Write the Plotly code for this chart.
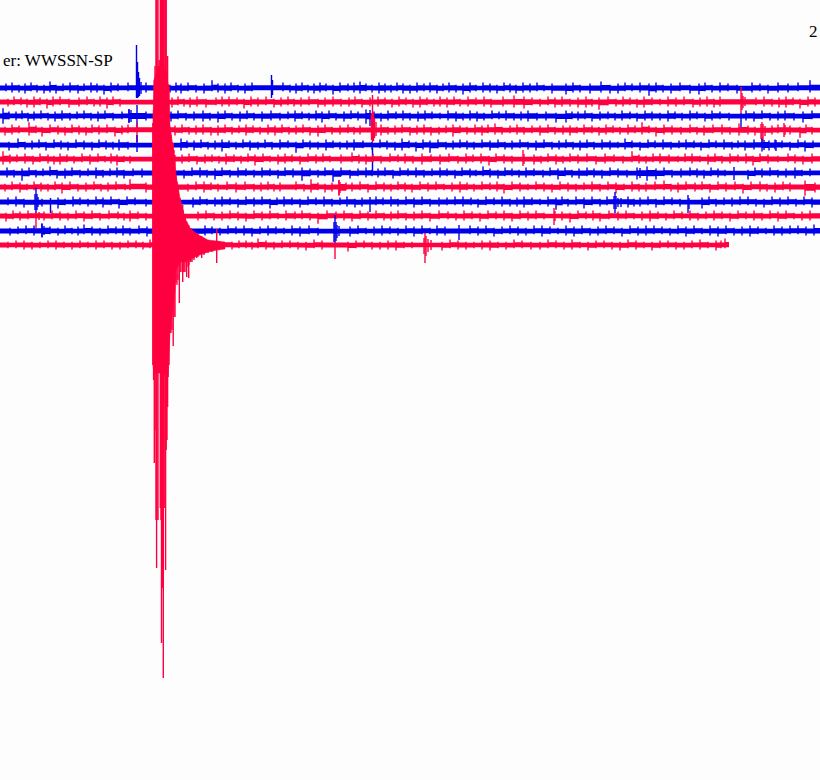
import plotly.graph_objects as go

# Helicorder rows: baseline level, end of record and colour index
ROW_LEVELS = [88, 102, 116, 130, 145, 159, 173, 187, 202, 216, 231, 245]
ROW_ENDS = [820, 820, 820, 820, 820, 820, 820, 820, 820, 820, 820, 729]
BLUE = "#0000e8"
RED = "#ff0040"

# Noise ticks read from each row: (time, swing above, swing below)
NOISE_0 = [(6,4,3),(12,5,4),(19,3,4),(25,4,5),(31,5,3),(37,3,4),(44,3,5),(50,6,4),(56,3,5),(63,4,3),(70,5,4),(78,3,5),(84,4,3),(91,5,4),(97,4,4),(104,3,6),(111,5,4),(118,4,3),(128,5,3),(146,5,4),(170,3,4),(176,5,4),(181,4,5),(188,5,3),(196,3,4),(204,4,5),(212,7,3),(218,4,4),(225,4,5),(231,5,3),(238,3,4),(245,4,5),(252,5,3),(283,5,3),(290,3,4),(296,4,5),(302,5,3),(308,3,4),(314,4,5),(320,5,4),(326,4,3),(333,3,6),(340,5,4),(348,4,3),(354,5,4),(360,6,5),(366,4,3),(372,3,4),(379,5,5),(385,4,4),(391,3,4),(397,5,3),(403,4,5),(410,3,5),(417,5,4),(424,4,3),(430,5,4),(437,3,5),(443,4,3),(449,5,4),(456,3,4),(463,4,6),(470,5,4),(476,3,3),(483,5,4),(490,4,4),(497,3,5),(504,5,3),(510,4,4),(516,3,5),(523,5,4),(530,4,4),(537,5,3),(544,3,3),(552,4,5),(566,4,6),(573,5,4),(580,3,4),(590,4,5),(601,6,4),(610,3,5),(618,4,5),(625,5,3),(632,4,3),(640,5,4),(649,4,7),(656,5,4),(663,3,4),(671,4,5),(680,5,3),(690,3,5),(699,4,6),(705,5,3),(712,3,4),(720,5,4),(728,4,3),(737,3,5),(752,5,4),(760,4,3),(768,3,5),(778,5,4),(788,4,4),(798,5,3),(810,7,4)]
NOISE_1 = [(8,3,4),(14,5,3),(21,4,3),(27,3,5),(34,5,5),(40,4,3),(47,3,6),(53,5,4),(60,5,3),(69,3,5),(79,4,4),(87,5,3),(94,3,4),(100,5,4),(107,4,6),(113,5,3),(120,3,4),(172,4,5),(178,5,3),(184,3,4),(190,4,5),(197,5,4),(206,3,5),(216,4,3),(222,5,4),(229,5,4),(237,4,3),(244,3,6),(251,5,4),(258,4,4),(266,5,3),(274,3,5),(281,4,4),(288,5,3),(294,3,4),(301,4,4),(309,5,3),(318,3,5),(325,4,4),(333,5,4),(341,3,4),(349,4,4),(355,5,3),(362,3,5),(370,4,4),(378,5,4),(385,4,3),(392,3,5),(399,5,4),(406,4,3),(413,3,5),(420,5,5),(427,4,3),(434,3,4),(440,5,4),(447,4,5),(454,5,3),(460,3,4),(468,5,4),(476,4,3),(484,5,4),(491,3,5),(503,5,4),(514,6,5),(524,5,6),(532,4,3),(540,3,4),(548,5,3),(555,4,5),(562,5,4),(570,3,4),(578,4,5),(586,5,5),(592,3,4),(599,4,7),(608,5,3),(616,3,4),(623,5,4),(630,4,3),(637,3,5),(644,5,5),(652,4,3),(660,3,3),(668,5,4),(676,4,4),(684,5,3),(693,3,5),(700,4,4),(707,5,4),(714,3,5),(720,5,4),(756,4,3),(764,5,4),(772,3,4),(779,4,5),(786,5,5),(793,4,3),(800,3,6),(808,5,4),(815,4,4)]
NOISE_2 = [(3,7,7),(9,4,3),(16,4,4),(22,5,3),(28,3,5),(34,4,4),(41,5,3),(48,3,4),(55,4,5),(62,5,4),(70,3,4),(77,4,3),(84,5,3),(91,3,4),(98,4,5),(105,5,3),(113,3,4),(122,4,3),(129,6,6),(146,4,4),(171,4,5),(178,5,3),(186,3,4),(194,4,4),(203,5,5),(210,3,4),(218,4,6),(225,5,3),(232,3,4),(240,4,5),(247,5,3),(254,3,4),(262,4,5),(271,5,4),(280,3,4),(288,4,3),(295,5,5),(302,4,3),(309,3,4),(316,5,4),(322,4,6),(329,5,3),(336,3,4),(344,4,5),(351,5,3),(358,4,4),(366,6,7),(374,4,4),(381,3,5),(388,5,4),(396,4,3),(403,5,4),(410,3,4),(418,4,5),(425,5,4),(432,4,3),(440,3,3),(448,5,4),(456,4,5),(463,3,4),(470,5,4),(477,4,5),(484,3,4),(492,5,3),(499,4,3),(506,5,4),(514,3,4),(521,4,4),(528,5,5),(537,3,4),(546,4,4),(556,3,6),(566,5,6),(572,4,3),(578,4,4),(585,5,3),(592,3,5),(600,4,4),(608,4,3),(615,3,4),(622,5,4),(630,4,3),(637,3,5),(645,5,4),(652,4,4),(660,3,4),(668,5,5),(675,4,3),(682,3,4),(690,5,4),(697,4,3),(705,3,5),(712,5,4),(720,4,3),(729,3,4),(746,5,4),(754,4,5),(762,5,3),(770,3,4),(778,4,4),(785,5,4),(794,3,4),(803,4,6),(812,5,3)]
NOISE_3 = [(5,3,5),(12,5,4),(19,4,3),(29,7,5),(36,4,3),(42,3,6),(50,5,3),(58,4,4),(65,3,5),(72,5,3),(79,4,4),(86,3,5),(92,5,3),(99,4,4),(107,5,3),(115,3,6),(122,4,4),(128,5,3),(175,4,5),(182,5,3),(189,3,4),(196,4,4),(203,5,4),(211,3,5),(218,4,5),(225,5,3),(232,3,4),(239,4,3),(246,5,5),(253,4,3),(260,3,4),(268,5,4),(275,4,5),(282,5,3),(289,3,4),(296,4,4),(303,5,3),(310,3,5),(318,4,6),(325,5,3),(332,3,4),(340,4,4),(348,5,3),(354,3,4),(360,4,4),(381,5,5),(388,3,4),(395,4,4),(402,5,3),(410,3,5),(417,4,4),(424,5,4),(431,3,5),(439,3,4),(446,4,3),(453,5,6),(460,4,3),(467,3,4),(475,5,4),(482,4,5),(488,5,3),(495,6,4),(502,3,4),(510,4,3),(517,5,4),(524,3,4),(532,4,3),(540,4,5),(548,5,3),(555,3,4),(563,4,4),(570,4,5),(577,3,3),(584,5,4),(592,4,3),(599,3,5),(606,5,4),(613,4,3),(620,3,4),(628,5,4),(635,4,3),(642,7,4),(649,4,3),(656,3,6),(664,5,4),(672,4,4),(681,3,4),(690,5,3),(697,3,4),(704,4,5),(713,5,3),(722,5,4),(730,3,4),(739,6,5),(748,4,4),(755,3,5),(772,4,4),(778,5,3),(790,4,4),(800,3,7),(806,5,3),(812,3,4)]
NOISE_4 = [(9,3,5),(18,6,3),(25,3,4),(32,4,4),(39,5,3),(46,3,5),(54,5,3),(61,4,4),(68,3,5),(76,5,3),(84,4,4),(92,3,5),(99,5,3),(106,4,4),(113,3,4),(119,5,5),(128,3,4),(181,6,5),(187,4,3),(194,4,5),(201,5,3),(208,3,4),(215,4,4),(222,5,6),(229,4,3),(236,3,4),(243,5,3),(250,4,5),(258,3,4),(265,5,3),(272,3,4),(280,5,4),(288,4,3),(296,3,7),(303,5,3),(310,4,4),(318,3,4),(326,5,5),(333,4,3),(340,3,4),(347,4,4),(354,5,5),(363,4,3),(372,3,4),(380,5,3),(387,4,4),(395,3,5),(402,6,5),(409,4,3),(416,3,6),(423,5,4),(430,4,7),(438,5,3),(446,3,4),(453,4,4),(460,5,3),(467,4,4),(474,3,4),(482,5,3),(490,4,5),(498,5,3),(505,3,4),(512,4,4),(520,5,3),(528,3,4),(536,4,5),(544,5,3),(552,3,4),(559,4,4),(566,5,3),(573,3,4),(580,4,5),(587,5,3),(594,3,4),(602,5,4),(610,4,4),(618,3,3),(625,6,4),(632,4,3),(640,3,5),(648,5,3),(655,4,3),(663,5,4),(671,3,4),(679,4,3),(686,5,4),(694,4,3),(701,3,5),(709,5,3),(716,4,3),(724,5,4),(732,3,4),(738,4,3),(745,4,5),(754,5,4),(762,6,6),(769,4,5),(775,5,4),(782,4,3),(790,3,5),(798,5,3),(805,4,6),(813,4,3)]
NOISE_5 = [(3,7,5),(10,4,4),(17,4,3),(25,5,4),(33,3,5),(40,5,3),(48,4,4),(54,3,5),(60,5,5),(67,4,3),(74,3,4),(82,5,3),(90,4,5),(98,5,3),(105,3,3),(111,5,4),(117,4,6),(124,3,3),(130,3,4),(182,4,4),(189,5,3),(197,3,5),(205,4,4),(212,4,3),(219,3,4),(226,5,5),(234,4,3),(241,3,4),(248,5,3),(255,4,6),(263,5,3),(270,3,3),(278,4,5),(285,5,4),(292,4,3),(300,3,5),(308,5,3),(316,4,4),(323,5,3),(330,3,3),(341,4,4),(352,6,3),(359,4,4),(366,4,5),(373,5,3),(381,3,4),(390,5,3),(398,4,3),(405,5,4),(413,3,4),(422,5,5),(431,4,3),(440,4,5),(449,5,3),(458,3,4),(466,5,4),(473,4,3),(481,5,4),(489,3,6),(496,5,3),(504,4,4),(512,3,4),(534,4,5),(541,3,4),(548,5,3),(556,4,5),(563,3,4),(570,5,3),(578,4,4),(587,5,3),(596,3,5),(605,5,4),(614,4,3),(623,3,4),(632,7,3),(639,4,4),(646,3,4),(653,5,3),(660,5,4),(669,4,4),(678,3,3),(685,5,3),(692,5,4),(700,3,3),(708,4,5),(715,5,3),(722,3,4),(730,5,4),(738,4,3),(746,5,4),(753,3,6),(760,5,3),(768,4,4),(778,3,3),(788,5,3),(795,4,4),(803,3,5),(812,5,4)]
NOISE_6 = [(7,5,4),(14,3,4),(22,4,7),(29,5,3),(36,3,4),(43,4,3),(50,6,3),(57,3,5),(65,4,5),(72,5,3),(80,3,4),(88,4,3),(96,5,5),(103,3,4),(110,4,3),(117,5,4),(124,3,5),(133,4,3),(142,4,4),(184,3,5),(192,5,3),(200,5,4),(207,3,4),(215,4,6),(222,5,3),(230,3,4),(238,5,4),(246,4,3),(254,3,4),(262,5,4),(270,4,3),(278,3,5),(285,5,3),(293,4,4),(302,5,7),(310,4,3),(318,3,4),(325,5,3),(333,4,8),(341,5,3),(350,3,5),(358,4,3),(366,5,4),(372,3,3),(378,4,4),(385,5,3),(393,3,5),(400,5,3),(408,4,3),(416,5,4),(424,3,4),(432,4,3),(440,5,4),(447,4,3),(455,3,5),(462,5,3),(470,4,4),(476,3,3),(483,6,3),(490,4,4),(498,3,5),(505,5,3),(512,4,3),(519,3,4),(526,5,4),(534,4,3),(543,3,4),(550,5,3),(558,4,6),(565,5,3),(572,3,4),(579,4,5),(587,5,3),(594,4,4),(602,3,5),(610,5,3),(618,4,4),(627,3,4),(637,5,6),(647,6,7),(656,4,6),(664,5,3),(672,3,4),(681,4,4),(690,5,3),(697,4,4),(704,3,5),(711,5,3),(718,4,4),(725,3,3),(748,3,6),(755,5,3),(762,4,4),(770,5,3),(778,3,4),(786,4,4),(795,5,5),(802,3,3),(810,4,3)]
NOISE_7 = [(5,3,4),(12,5,3),(20,4,5),(27,3,3),(34,5,3),(41,4,4),(48,3,4),(55,5,3),(62,4,6),(70,5,3),(78,3,4),(86,4,4),(94,5,3),(101,3,4),(108,4,4),(116,5,3),(125,3,3),(130,7,3),(146,4,5),(188,3,4),(196,5,3),(204,5,5),(211,4,3),(218,3,4),(227,5,3),(236,4,5),(245,5,3),(254,3,4),(261,4,4),(268,5,3),(274,3,4),(280,4,4),(296,5,3),(304,3,4),(311,7,5),(318,4,3),(325,3,5),(332,4,4),(339,6,8),(346,4,3),(352,4,4),(360,5,3),(368,3,5),(376,5,3),(384,4,4),(391,3,4),(398,5,3),(405,4,4),(412,3,5),(420,5,3),(428,4,4),(436,5,3),(444,3,3),(452,4,4),(460,5,5),(467,4,3),(474,3,4),(482,5,3),(490,4,3),(497,5,4),(504,3,6),(512,5,3),(520,4,4),(528,3,3),(536,5,3),(544,4,4),(552,3,5),(560,5,3),(568,4,4),(576,3,4),(584,4,3),(592,5,4),(600,3,4),(608,5,3),(616,4,6),(624,3,3),(632,5,4),(639,3,4),(646,4,4),(655,5,3),(664,6,3),(671,3,4),(678,4,5),(686,5,3),(695,4,4),(702,5,3),(710,3,5),(718,5,3),(726,4,4),(735,5,3),(743,3,6),(751,5,3),(760,5,4),(767,3,4),(775,4,5),(783,5,3),(790,4,4),(805,6,8),(815,4,5)]
NOISE_8 = [(8,4,3),(16,5,4),(24,3,5),(42,3,4),(58,4,6),(65,3,3),(73,5,4),(80,4,3),(88,3,4),(96,5,3),(103,4,5),(111,5,3),(119,3,6),(127,5,3),(135,4,3),(146,3,4),(193,4,5),(200,5,3),(207,3,3),(215,4,4),(222,5,4),(230,4,3),(238,3,5),(246,5,3),(254,4,4),(262,5,3),(270,3,6),(277,4,3),(284,5,4),(292,4,3),(300,3,5),(308,5,3),(316,4,3),(324,5,4),(332,3,4),(340,4,3),(347,5,4),(355,3,5),(362,4,4),(376,5,3),(383,4,3),(391,5,4),(398,3,4),(406,5,3),(414,4,5),(422,5,3),(430,3,4),(439,4,4),(447,4,3),(455,5,3),(463,5,4),(471,4,3),(478,3,5),(486,5,3),(494,4,3),(502,5,4),(510,3,4),(517,4,4),(524,5,5),(532,4,3),(540,3,3),(548,5,4),(556,4,7),(562,5,3),(568,3,4),(576,5,3),(584,4,6),(592,5,3),(600,3,4),(607,5,3),(628,5,5),(634,3,4),(640,4,4),(648,5,3),(656,3,5),(664,5,3),(672,4,3),(680,3,4),(702,4,6),(709,5,3),(716,3,4),(724,4,3),(732,4,4),(740,5,3),(748,5,3),(756,3,4),(764,3,5),(772,5,3),(780,4,4),(788,5,3),(796,3,4),(804,5,3),(812,4,5)]
NOISE_9 = [(6,3,5),(13,5,3),(20,4,4),(28,5,3),(44,4,4),(52,5,3),(60,4,4),(68,3,4),(76,5,3),(84,4,5),(92,5,3),(100,3,4),(109,5,3),(118,4,3),(124,3,4),(130,5,5),(138,4,3),(146,3,4),(198,4,4),(206,5,3),(214,3,4),(222,4,4),(230,5,3),(238,4,4),(246,3,5),(254,5,3),(262,4,4),(270,5,3),(278,3,3),(286,5,4),(295,4,3),(302,5,3),(310,3,4),(318,3,7),(327,5,3),(336,4,3),(344,5,4),(352,3,5),(360,5,3),(368,4,4),(376,5,3),(384,3,4),(391,4,4),(398,5,3),(406,3,4),(414,4,4),(422,5,3),(430,3,5),(439,5,3),(448,4,3),(456,3,4),(464,5,4),(472,4,3),(480,3,5),(488,5,3),(496,4,3),(504,5,4),(512,3,5),(520,5,3),(528,4,4),(536,5,3),(544,3,3),(562,4,4),(570,3,6),(578,5,3),(586,4,3),(593,5,4),(600,3,5),(609,5,3),(618,4,4),(626,5,3),(634,3,3),(642,4,4),(650,5,5),(658,4,3),(666,3,4),(674,5,3),(682,4,3),(690,5,4),(698,3,4),(706,4,3),(714,5,4),(722,4,3),(730,3,5),(738,5,3),(746,4,3),(754,5,4),(762,3,4),(770,5,3),(778,4,5),(786,5,3),(794,3,3),(802,4,4),(810,5,4)]
NOISE_10 = [(10,3,4),(18,4,3),(26,5,3),(34,5,4),(42,7,6),(50,4,3),(58,3,4),(65,5,3),(72,3,3),(78,4,4),(84,6,3),(92,4,4),(100,3,4),(108,5,3),(116,4,3),(123,5,4),(130,3,4),(139,5,3),(147,4,5),(205,5,4),(212,4,3),(220,3,4),(228,5,3),(236,4,3),(244,5,4),(252,3,5),(260,4,3),(268,5,4),(276,4,3),(284,3,3),(292,5,4),(300,4,5),(309,5,3),(318,3,4),(350,4,5),(358,5,3),(366,3,3),(374,4,4),(382,5,4),(390,4,3),(398,3,4),(406,5,3),(414,4,5),(422,5,3),(430,3,3),(437,5,4),(445,4,4),(470,5,3),(478,4,4),(486,5,3),(494,3,5),(502,4,3),(510,5,3),(518,4,4),(526,3,4),(534,5,3),(542,5,5),(550,4,3),(558,3,3),(566,5,4),(574,4,5),(582,5,3),(590,3,4),(598,4,4),(606,5,3),(614,4,3),(622,3,5),(630,5,3),(638,4,4),(646,5,4),(654,5,3),(662,4,3),(670,3,4),(678,5,3),(686,4,5),(694,5,3),(702,3,3),(710,5,4),(718,4,5),(726,5,3),(734,3,4),(742,4,4),(750,5,5),(758,4,3),(766,3,3),(774,5,4),(782,4,4),(790,5,3),(798,5,3),(806,4,4),(814,6,4)]
NOISE_11 = [(8,3,3),(16,4,3),(24,4,4),(32,3,4),(40,3,3),(48,4,3),(56,4,4),(64,3,3),(72,3,4),(80,4,3),(88,3,3),(96,4,4),(104,4,3),(112,3,4),(120,3,4),(128,4,3),(136,4,3),(143,3,4),(150,5,3),(232,3,4),(239,4,3),(246,4,3),(252,3,4),(258,6,3),(266,4,4),(274,3,4),(282,4,3),(290,4,3),(298,3,4),(306,3,5),(314,5,3),(322,4,4),(348,3,6),(356,4,3),(364,4,3),(372,3,4),(380,3,4),(388,4,4),(396,4,5),(404,3,3),(412,3,3),(442,3,5),(450,5,3),(458,4,4),(466,3,4),(474,3,3),(482,4,4),(490,4,5),(498,3,3),(506,3,4),(514,5,3),(522,4,3),(531,3,4),(540,3,4),(548,5,3),(556,4,3),(564,3,4),(572,5,4),(580,3,3),(588,3,5),(596,4,3),(604,4,3),(612,3,4),(620,3,5),(628,5,3),(636,4,4),(644,3,3),(652,3,5),(660,4,3),(668,4,3),(676,3,4),(684,3,4),(692,4,3),(700,5,4),(708,3,3),(716,4,5),(721,4,3),(725,6,3)]
ROW_NOISE = [NOISE_0, NOISE_1, NOISE_2, NOISE_3, NOISE_4, NOISE_5, NOISE_6, NOISE_7, NOISE_8, NOISE_9, NOISE_10, NOISE_11]

# Local events: (row, time, top, bottom) read from the record
EVENTS = [
    (0,136.5,45,98),(0,137.5,62,98),(0,138.5,72,97),(0,139.5,78,96),(0,141,82,94),(0,271.5,75,98),(0,272.5,80,95),
    (1,741,87,113),(1,742,93,110),(1,743,96,108),(1,745,97,106),
    (2,137,105,128),(2,129,109,123),(2,131,110,122),(2,370,110,126),(2,741,113,128),
    (3,137,123,142),(3,372.5,95,142),(3,371.5,113,140),(3,373.5,112,141),(3,374.5,118,138),(3,376,122,136),(3,762,122,142),(3,763,124,140),(3,761,124,139),(3,765,126,136),(3,784,123,137),(3,785,125,135),
    (4,137,135,152),(4,372.5,148,172),(4,764,140,150),(4,776,140,151),
    (5,523,150,166),(5,524,154,164),
    (6,734,167,180),(6,640,168,178),
    (7,339,180,195),(7,340,182,193),
    (8,36,188,213),(8,35,194,210),(8,37,194,210),(8,38,197,207),(8,50.5,198,213),(8,370,197,212),(8,615,192,213),(8,614,196,209),(8,616,196,209),(8,618,198,207),(8,621,198,207),(8,688,195,213),(8,689,198,209),
    (9,554,208,225),(9,36,212,228),(9,555,211,221),(9,39,212,220),
    (10,335,215,243),(10,334,222,242),(10,336,222,241),(10,337,225,238),(10,339,226,236),(10,459,225,240),(10,42,224,237),(10,44,226,235),
    (11,335,243,259),(11,425,233,263),(11,424,238,254),(11,426,236,256),(11,428,239,252),(11,431,240,250),
]

# The large earthquake, drawn on the last row: time, top, bottom
QUAKE_T = [152.8,153.6,154.3,155,156,156.6,157,158,159.2,160.3,161,161.5,162,162.7,163.3,164,165,165.6,166.2,167,167.6,168,169,170,171,172,173.2,174,175,176,177,178,179.3,180,181,182.7,183,184,185,186.7,187,188.7,189,190.7,192,194,196.7,198,201.7,204,208,212,216.7,219,223]
QUAKE_TOP = [123,110,80,66,0,0,0,0,60,0,0,0,0,0,0,0,0,0,0,80,56,84,85,130,135,142,143,150,155,175,182,190,198,198,205,205,210,215,218,222,225,225,228,228,230,232,234,234,236,238,240,241,229,241,242]
QUAKE_BOTTOM = [365,380,463,430,520,568,520,520,373,508,520,643,588,588,678,508,508,570,450,440,407,377,365,333,333,330,346,317,317,283,285,280,303,272,272,282,272,272,272,277,267,278,265,262,262,260,258,257,258,255,253,252,263,250,249]

# Solid body of the earthquake coda
BODY_T = [153,154,158,166,168,170,172,175,176,180,185,190,197,208,217,225]
BODY_TOP = [123,80,66,70,84,125,140,165,175,198,218,228,234,240,241,242]
BODY_BOTTOM = [365,373,373,373,377,333,320,290,270,262,262,260,256,252,250,249]

FILTER_TEXT = "er: WWSSN-SP"
DATE_TEXT = "2"


def spikes(items):
    xs, ys = [], []
    for t, top, bottom in items:
        xs += [t, t, None]
        ys += [top, bottom, None]
    return xs, ys


fig = go.Figure()
for i, level in enumerate(ROW_LEVELS):
    colour = BLUE if i % 2 == 0 else RED
    noise = ROW_NOISE[i]
    # Blocky band following the swings of the trace
    band_x = [0] + [t for t, u, d in noise] + [ROW_ENDS[i]]
    band_top = [level - 2.5] + [level - 1.4 - 0.28 * u for t, u, d in noise] + [level - 2.5]
    band_bot = [level + 2.5] + [level + 1.4 + 0.28 * d for t, u, d in noise] + [level + 2.5]
    fig.add_trace(go.Scatter(x=band_x, y=band_top, mode="lines", line=dict(color=colour, width=0.01, shape="hv"),
                             hoverinfo="skip", showlegend=False))
    fig.add_trace(go.Scatter(x=band_x, y=band_bot, mode="lines", fill="tonexty", fillcolor=colour,
                             line=dict(color=colour, width=0.01, shape="hv"),
                             hoverinfo="skip", showlegend=False))
    items = [(t, level - u * 1.1, level + d * 1.1) for t, u, d in noise]
    items += [(t, top, bottom) for r, t, top, bottom in EVENTS if r == i]
    xs, ys = spikes(items)
    fig.add_trace(go.Scatter(x=xs, y=ys, mode="lines", connectgaps=False,
                             line=dict(color=colour, width=1.4), hoverinfo="skip", showlegend=False))

fig.add_trace(go.Scatter(x=BODY_T + BODY_T[::-1], y=BODY_TOP + BODY_BOTTOM[::-1], mode="lines",
                         fill="toself", fillcolor=RED, line=dict(color=RED, width=0.5),
                         hoverinfo="skip", showlegend=False))
xs, ys = spikes(zip(QUAKE_T, QUAKE_TOP, QUAKE_BOTTOM))
fig.add_trace(go.Scatter(x=xs, y=ys, mode="lines", connectgaps=False,
                         line=dict(color=RED, width=1.4), hoverinfo="skip", showlegend=False))

fig.add_annotation(x=1, y=60, xref="x", yref="y", text=FILTER_TEXT, showarrow=False, xanchor="left",
                   yanchor="middle", font=dict(family="Liberation Serif", size=17, color="#000000"))
fig.add_annotation(x=820, y=31, xref="x", yref="y", text=DATE_TEXT, showarrow=False, xanchor="right",
                   yanchor="middle", font=dict(family="Liberation Serif", size=17, color="#000000"))

fig.update_layout(width=820, height=780, margin=dict(l=0, r=0, t=0, b=0), autosize=False,
                  paper_bgcolor="#fdfdfd", plot_bgcolor="#fdfdfd", showlegend=False,
                  xaxis=dict(range=[0, 820], visible=False, fixedrange=True),
                  yaxis=dict(range=[780, 0], visible=False, fixedrange=True))
fig.write_html("out.html", config=dict(displayModeBar=False),
               post_script="document.body.style.margin='0';document.body.style.overflow='hidden';")
